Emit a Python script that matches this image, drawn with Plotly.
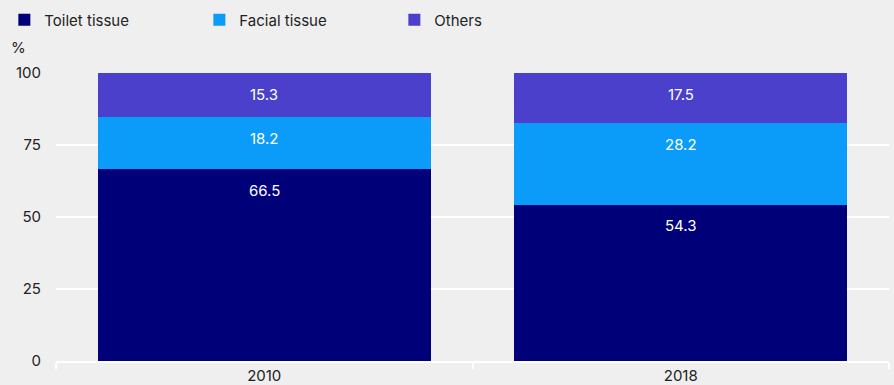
import plotly.graph_objects as go

years = ["2010", "2018"]
toilet = [66.5, 54.3]
facial = [18.2, 28.2]
others = [15.3, 17.5]
series_names = ["Toilet tissue", "Facial tissue", "Others"]
colors = ["#000078", "#0b9cfa", "#4a40cc"]
y_ticks = [0, 25, 50, 75, 100]

FONT = "Inter, Roboto, sans-serif"
fig = go.Figure()
series = [toilet, facial, others]
for name, vals, col in zip(series_names, series, colors):
    fig.add_trace(go.Bar(
        x=years, y=vals, name=name, marker=dict(color=col, line=dict(width=0)),
    ))

# value labels near the top inside each segment
annotations = []
for i, yr in enumerate(years):
    cum = 0
    for vals in series:
        cum += vals[i]
        annotations.append(dict(
            x=i, y=cum, xref="x", yref="y", text=f"{vals[i]:.1f}",
            showarrow=False, yshift=-21, yanchor="middle",
            font=dict(family=FONT, size=15, color="#ffffff"),
        ))
annotations.append(dict(
    x=0, xref="paper", xanchor="left", xshift=-47,
    y=1, yref="paper", yanchor="bottom", yshift=14,
    text="%", showarrow=False, font=dict(family=FONT, size=15, color="#222222"),
))

fig.update_layout(
    barmode="stack",
    bargap=0.2,
    width=894, height=385,
    margin=dict(l=56, r=5, t=73, b=24, autoexpand=False),
    paper_bgcolor="#efefef",
    plot_bgcolor="#efefef",
    font=dict(family=FONT, size=15, color="#222222"),
    showlegend=True,
    legend=dict(
        orientation="h", x=-0.062, xanchor="left", y=1.184, yanchor="middle",
        entrywidth=150, entrywidthmode="pixels",
        font=dict(family=FONT, size=15, color="#222222"),
        bgcolor="rgba(0,0,0,0)", traceorder="normal",
    ),
    annotations=annotations,
)
fig.update_xaxes(
    type="category", showgrid=False, showline=True, linecolor="#ffffff", linewidth=2,
    ticks="outside", tickson="boundaries", tickcolor="#ffffff", ticklen=6, tickwidth=2,
    tickfont=dict(family=FONT, size=15, color="#222222"), tickangle=0,
)
fig.update_yaxes(
    range=[0, 100], tickvals=y_ticks, showgrid=True, gridcolor="#ffffff", gridwidth=2,
    zeroline=False, showline=False, ticklabelstandoff=14,
    tickfont=dict(family=FONT, size=15, color="#222222"),
)
fig.write_html("out.html", post_script="document.body.style.margin='0';",
               config={"displayModeBar": False})
